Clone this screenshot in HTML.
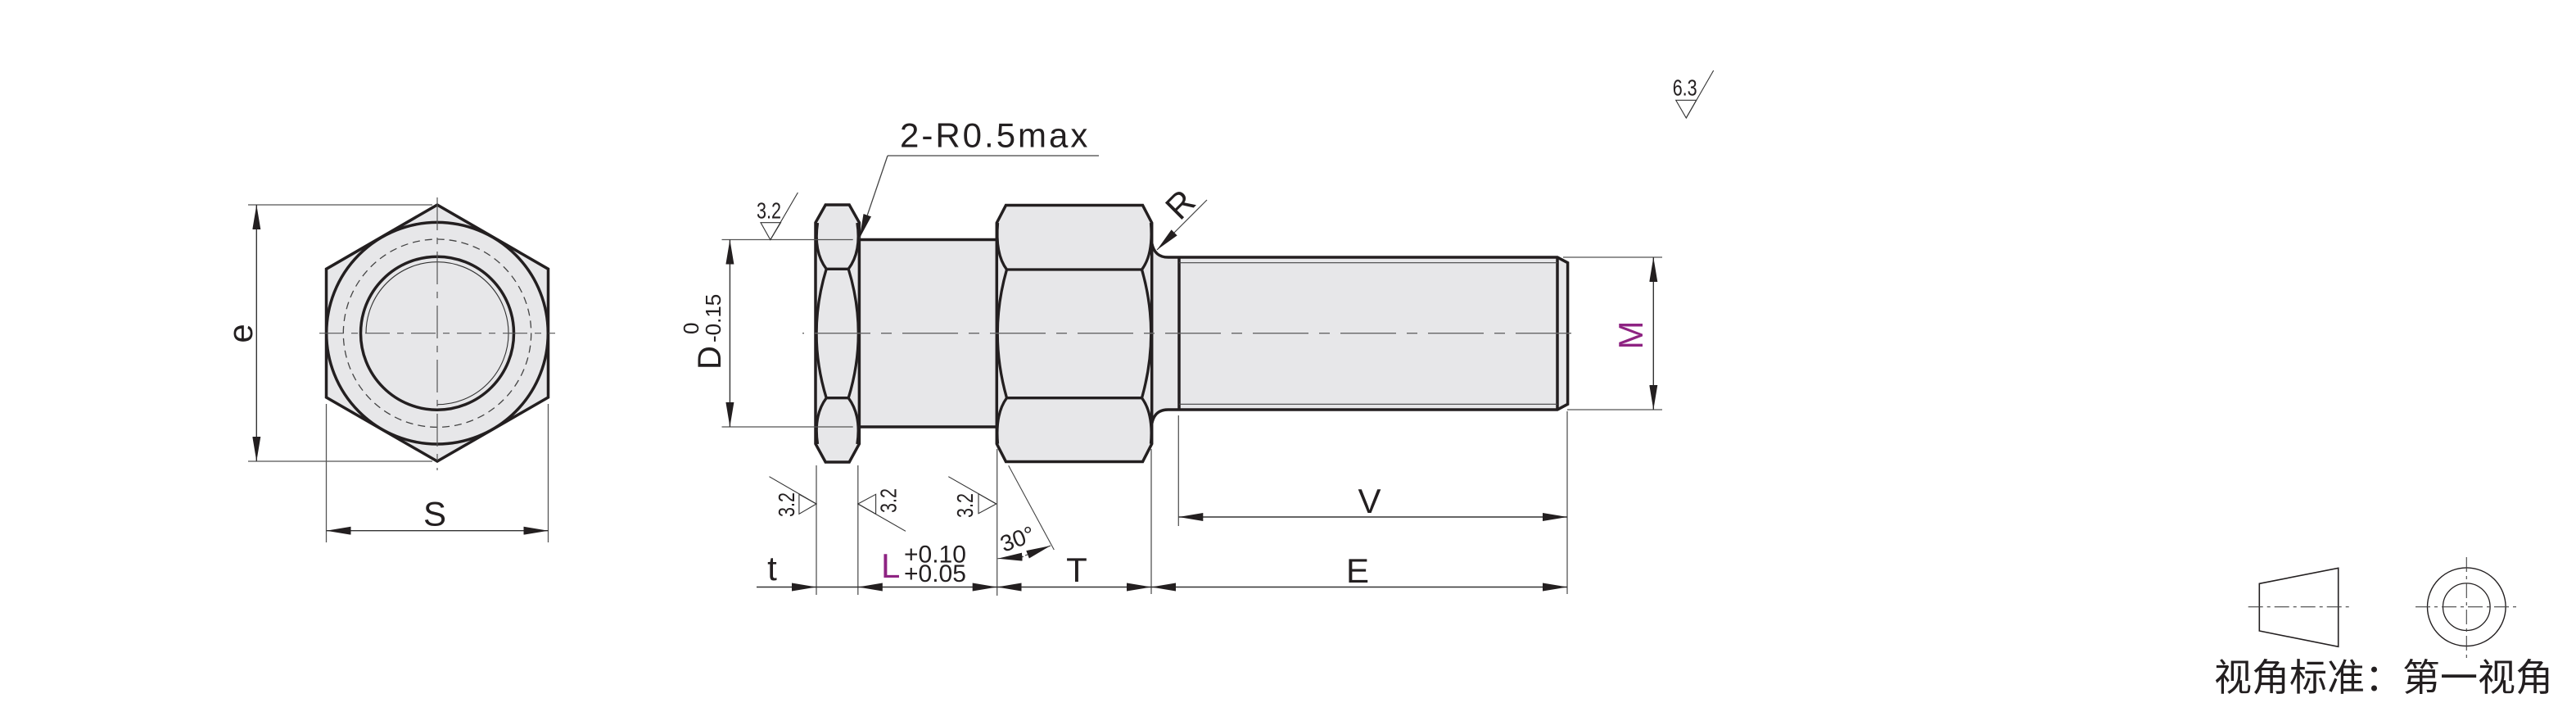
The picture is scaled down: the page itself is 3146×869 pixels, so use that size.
<!DOCTYPE html>
<html>
<head>
<meta charset="utf-8">
<style>
html,body{margin:0;padding:0;background:#fff;}
svg{display:block;}
text{font-family:"Liberation Sans","Noto Sans CJK SC",sans-serif;fill:#231f20;}
</style>
</head>
<body>
<svg width="3146" height="869" viewBox="0 0 3146 869" xmlns="http://www.w3.org/2000/svg">
<defs>
<marker id="ar" viewBox="0 0 30 10" refX="30" refY="5" markerWidth="30" markerHeight="10" markerUnits="userSpaceOnUse" orient="auto-start-reverse">
<path d="M0,0L30,5L0,10Z" fill="#231f20"/>
</marker>
</defs>
<rect width="3146" height="869" fill="#fff"/>

<!-- ============ LEFT VIEW (hex end) ============ -->
<g fill="#e7e7e9" stroke="#231f20" stroke-width="3.5">
<polygon points="534,250 669.5,328.3 669.5,485 534,563 398.5,485 398.5,328.3"/>
<circle cx="534" cy="406.7" r="135.3"/>
<circle cx="534" cy="406.7" r="93.5"/>
</g>
<circle cx="534" cy="406.7" r="114.7" fill="none" stroke="#444" stroke-width="1.3" stroke-dasharray="9 6"/>
<path d="M447,406.7 A87,87 0 1 1 534,493.7" fill="none" stroke="#333" stroke-width="1.1"/>
<!-- centerlines -->
<path d="M534,241 V574" stroke="#555" stroke-width="1.2" stroke-dasharray="40 9 8 9" stroke-dashoffset="0"/>
<path d="M390,406.7 H678" stroke="#555" stroke-width="1.2" stroke-dasharray="30 9 8 9"/>

<!-- e dimension -->
<g stroke="#555" stroke-width="1.3" fill="none">
<path d="M303,250 H528"/>
<path d="M303,563 H528"/>
<path d="M398.5,493 V662"/>
<path d="M669.5,493 V662"/>
</g>
<path d="M313.3,250 V563" stroke="#333" stroke-width="1.4" marker-start="url(#ar)" marker-end="url(#ar)"/>
<text transform="translate(308,407) rotate(-90)" font-size="42" text-anchor="middle">e</text>
<path d="M398.5,647.7 H669.5" stroke="#333" stroke-width="1.4" marker-start="url(#ar)" marker-end="url(#ar)"/>
<text x="531" y="641.7" font-size="42" text-anchor="middle">S</text>

<!-- ============ MIDDLE VIEW ============ -->
<rect x="1049.4" y="292.5" width="167.9" height="228.5" fill="#e7e7e9"/>
<g stroke="#231f20" stroke-width="3.5" fill="none">
<path d="M1049.4,292.5 H1217.3"/>
<path d="M1049.4,521 H1217.3"/>
</g>

<path d="M1406.7,297 C1409,308 1415,314 1426.7,314 H1902 L1914.6,320.7 V493.3 L1902,500 H1426.7 C1415,500 1409,506 1406.7,517 Z" fill="#e7e7e9"/>
<path d="M1406.7,297 C1409,308 1415,314 1426.7,314 H1902 L1914.6,320.7 V493.3 L1902,500 H1426.7 C1415,500 1409,506 1406.7,517" fill="none" stroke="#231f20" stroke-width="3.5"/>
<g stroke="#231f20" stroke-width="3.5">
<path d="M1440,314 V500"/>
<path d="M1902,314 V500"/>
</g>
<g stroke="#444" stroke-width="1.2">
<path d="M1440,320.7 H1902"/>
<path d="M1440,493.3 H1902"/>
</g>

<!-- small nut -->
<path d="M1008.2,250 H1037.2 L1049.4,271.7 V541.7 L1037.2,564 H1008.2 L996,541.7 V271.7 Z" fill="#e7e7e9" stroke="#231f20" stroke-width="3.5"/>
<g stroke="#231f20" stroke-width="3.3" fill="none">
<path d="M1009.2,328.3 H1036.2"/>
<path d="M1009.2,485.7 H1036.2"/>
<path d="M998.5,272 C995.5,292 997,312 1009.2,328.3"/>
<path d="M1009.2,328.3 Q985,407 1009.2,485.7"/>
<path d="M1009.2,485.7 C997,502 995.5,522 998.5,542"/>
<path d="M1046.9,272 C1049.9,292 1048.4,312 1036.2,328.3"/>
<path d="M1036.2,328.3 Q1060.4,407 1036.2,485.7"/>
<path d="M1036.2,485.7 C1048.4,502 1049.9,522 1046.9,542"/>
</g>

<!-- big hex -->
<path d="M1228.5,250.5 H1395.5 L1406.7,272 V541.7 L1395.5,563.5 H1228.5 L1217.3,541.7 V272 Z" fill="#e7e7e9" stroke="#231f20" stroke-width="3.5"/>
<g stroke="#231f20" stroke-width="3.3" fill="none">
<path d="M1229.5,329 H1394.5"/>
<path d="M1229.5,485.7 H1394.5"/>
<path d="M1218.5,272 C1216.5,295 1219,315 1229.5,329"/>
<path d="M1229.5,329 Q1207,407 1229.5,485.7"/>
<path d="M1229.5,485.7 C1219,500 1216.5,520 1218.5,541.7"/>
<path d="M1405.5,272 C1407.5,295 1405,315 1394.5,329"/>
<path d="M1394.5,329 Q1417,407 1394.5,485.7"/>
<path d="M1394.5,485.7 C1405,500 1407.5,520 1405.5,541.7"/>
</g>

<!-- centerline middle -->
<path d="M980,406.7 H1930.7" stroke="#666" stroke-width="1.3" stroke-dasharray="68 13 13 13" stroke-dashoffset="92"/>

<!-- D dimension -->
<g stroke="#555" stroke-width="1.3">
<path d="M881.5,292.5 H1041.7"/>
<path d="M881.5,521 H1041.7"/>
</g>
<path d="M891.4,292.5 V521" stroke="#333" stroke-width="1.4" marker-start="url(#ar)" marker-end="url(#ar)"/>
<text transform="translate(880,451) rotate(-90)" font-size="40">D</text>
<text transform="translate(880,418) rotate(-90)" font-size="26">-0.15</text>
<text transform="translate(853,408) rotate(-90)" font-size="26">0</text>

<!-- 3.2 top-left symbol -->
<text transform="translate(924,266.7) scale(0.77,1)" font-size="28">3.2</text>
<g stroke="#333" stroke-width="1.1" fill="none">
<path d="M929,271.7 H953.5 L940.8,292.7 Z"/>
<path d="M940.8,292.7 L974.4,235"/>
</g>

<!-- 2-R0.5max -->
<text x="1099" y="179.3" font-size="42" letter-spacing="3">2-R0.5max</text>
<path d="M1342,190 H1084" stroke="#444" stroke-width="1.3" fill="none"/>
<path d="M1084,190 L1049.6,291" stroke="#444" stroke-width="1.3" fill="none" marker-end="url(#ar)"/>

<!-- R leader -->
<path d="M1474,244 L1413,305" stroke="#444" stroke-width="1.2" fill="none" marker-end="url(#ar)"/>
<text transform="translate(1441,249) rotate(-45)" font-size="42" text-anchor="middle" y="15">R</text>

<!-- 6.3 symbol -->
<text transform="translate(2042.7,116.7) scale(0.77,1)" font-size="28">6.3</text>
<g stroke="#333" stroke-width="1.1" fill="none">
<path d="M2046.7,122.3 H2071.7 L2059.3,144 Z"/>
<path d="M2059.3,144 L2092.7,86"/>
</g>

<!-- M dimension -->
<g stroke="#555" stroke-width="1.3">
<path d="M1909,314 H2030"/>
<path d="M1914,500 H2030"/>
</g>
<path d="M2019.3,314 V500" stroke="#333" stroke-width="1.4" marker-start="url(#ar)" marker-end="url(#ar)"/>
<text transform="translate(2006,409) rotate(-90)" font-size="42" text-anchor="middle" style="fill:#8e2382">M</text>

<!-- extension lines bottom -->
<g stroke="#555" stroke-width="1.3">
<path d="M997,568 V726"/>
<path d="M1047.8,568 V726"/>
<path d="M1217.7,548 V727"/>
<path d="M1406,548 V725"/>
<path d="M1439.3,507 V642"/>
<path d="M1914,502 V725"/>
</g>

<!-- bottom dimension line -->
<path d="M924,716.5 H1914" stroke="#333" stroke-width="1.4"/>
<g>
<path d="M967,716.5 L997,716.5" stroke="#333" stroke-width="1" marker-end="url(#ar)"/>
<path d="M1078,716.5 L1047.8,716.5" stroke="#333" stroke-width="1" marker-end="url(#ar)"/>
<path d="M1186,716.5 L1217.7,716.5" stroke="#333" stroke-width="1" marker-end="url(#ar)"/>
<path d="M1248,716.5 L1217.7,716.5" stroke="#333" stroke-width="1" marker-end="url(#ar)"/>
<path d="M1376,716.5 L1406,716.5" stroke="#333" stroke-width="1" marker-end="url(#ar)"/>
<path d="M1436,716.5 L1406,716.5" stroke="#333" stroke-width="1" marker-end="url(#ar)"/>
<path d="M1883,716.5 L1914,716.5" stroke="#333" stroke-width="1" marker-end="url(#ar)"/>
</g>
<text x="943" y="708" font-size="42" text-anchor="middle">t</text>
<text x="1076" y="705" font-size="42" style="fill:#8e2382">L</text>
<text x="1104" y="686.7" font-size="30">+0.10</text>
<text x="1104" y="710" font-size="30">+0.05</text>
<text x="1315" y="710" font-size="42" text-anchor="middle">T</text>
<text x="1658" y="711" font-size="42" text-anchor="middle">E</text>

<!-- V dimension -->
<path d="M1439.3,631 H1914" stroke="#333" stroke-width="1.4" marker-start="url(#ar)" marker-end="url(#ar)"/>
<text x="1672.5" y="626" font-size="42" text-anchor="middle">V</text>

<!-- 30 degree -->
<path d="M1231.7,568.3 L1287.3,671" stroke="#444" stroke-width="1.1"/>
<path d="M1250,679.5 L1218.5,681.7" stroke="#333" stroke-width="1" marker-end="url(#ar)"/>
<path d="M1252,678 L1283,666" stroke="#333" stroke-width="1" marker-end="url(#ar)"/>
<text transform="translate(1226,674) rotate(-20)" font-size="28">30°</text>

<!-- rotated 3.2 symbols -->
<g stroke="#333" stroke-width="1.1" fill="none">
<path d="M975.9,603.3 L997,615 L975.9,627.3 Z"/>
<path d="M939.5,581.7 L997,615"/>
<path d="M1069.6,603.3 L1047.8,615 L1069.6,627.3 Z"/>
<path d="M1047.8,615 L1106,648.3"/>
<path d="M1195,602.7 L1216.7,615 L1195,626.7 Z"/>
<path d="M1158.3,581.7 L1216.7,615"/>
</g>
<text transform="translate(970,631) rotate(-90) scale(0.77,1)" font-size="28">3.2</text>
<text transform="translate(1094.5,626) rotate(-90) scale(0.77,1)" font-size="28">3.2</text>
<text transform="translate(1188,632) rotate(-90) scale(0.77,1)" font-size="28">3.2</text>

<!-- ============ PROJECTION SYMBOL ============ -->
<polygon points="2759.3,712.3 2855.7,693.3 2855.7,789.3 2759.3,770" fill="none" stroke="#231f20" stroke-width="1.6"/>
<path d="M2745.7,740.7 H2870" stroke="#444" stroke-width="1.1" stroke-dasharray="18 5 4 5"/>
<circle cx="3012.3" cy="740.7" r="47.8" fill="none" stroke="#231f20" stroke-width="1.4"/>
<circle cx="3012.3" cy="740.7" r="28.8" fill="none" stroke="#231f20" stroke-width="1.3"/>
<path d="M2950,740.7 H3074.3" stroke="#444" stroke-width="1.1" stroke-dasharray="18 5 4 5"/>
<path d="M3012.3,680 V803.3" stroke="#444" stroke-width="1.1" stroke-dasharray="18 5 4 5"/>
<text x="2704" y="843" font-size="46" style="font-family:'Liberation Sans','Noto Sans CJK SC',sans-serif">视角标准：第一视角</text>
</svg>
</body>
</html>
